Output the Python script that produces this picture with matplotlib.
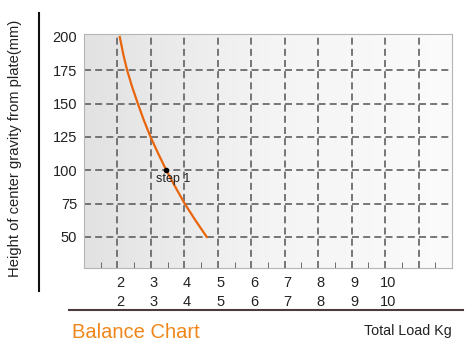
import numpy as np
import matplotlib.pyplot as plt
from matplotlib.lines import Line2D
from matplotlib.colors import LinearSegmentedColormap

plt.rcParams['font.family'] = ['Liberation Sans', 'DejaVu Sans']

# Data
height_mm = [200, 187.5, 175, 162.5, 150, 137.5, 125, 112.5, 100, 87.5, 75, 62.5, 50]
load_kg = [2.07, 2.17, 2.29, 2.44, 2.61, 2.79, 2.99, 3.22, 3.46, 3.73, 4.01, 4.33, 4.67]
step_load, step_height = 3.46, 100
x_grid = [2, 3, 4, 5, 6, 7, 8, 9, 10, 11]
x_labels = ["2", "3", "4", "5", "6", "7", "8", "9", "10"]
y_ticks = [50, 75, 100, 125, 150, 175, 200]
y_grid = [50, 75, 100, 125, 150, 175]

fig = plt.figure(figsize=(4.74, 3.51), dpi=100)
ax = fig.add_axes([0.1772, 0.2365, 0.7764, 0.6667])
ax.set_xlim(1, 12)
ax.set_ylim(26.75, 202.25)

# light gray -> white background gradient
grad = np.linspace(0, 1, 256).reshape(1, -1)
bg = LinearSegmentedColormap.from_list("bg", ["#e2e2e2", "#f4f4f4", "#fbfbfb"])
ax.imshow(grad, extent=[1, 12, 26.75, 202.25], aspect="auto", cmap=bg, zorder=0)

grid_kw = dict(color="#606060", lw=1.2, ls=(0, (4.2, 2.5)), zorder=1)
for x in x_grid:
    ax.axvline(x, **grid_kw)
for y in y_grid:
    ax.axhline(y, **grid_kw)

ax.plot(load_kg, height_mm, color="#e8650c", lw=1.6, zorder=3)
ax.plot(step_load, step_height, "o", color="black", ms=3, zorder=4)
ax.text(3.16, 91.5, "step 1", fontsize=9, color="#222222", zorder=5)

for s in ax.spines.values():
    s.set_color("#b5b5b5")
    s.set_linewidth(0.8)

ax.set_yticks(y_ticks)
ax.set_yticklabels([str(v) for v in y_ticks], fontsize=10.5, color="#222222")
ax.tick_params(axis="y", length=0, pad=5)
ax.set_xticks([])
ax.set_xticks(np.arange(1.5, 12, 1), minor=True)
ax.tick_params(axis="x", which="minor", direction="in", length=4, color="#555555",
               labelbottom=False)

for x, lab in zip(x_grid, x_labels):
    ax.text(x + 0.08, -0.064, lab, transform=ax.get_xaxis_transform(),
            ha="center", va="center", fontsize=10.5, color="#222222")
    ax.text(x + 0.08, -0.145, lab, transform=ax.get_xaxis_transform(),
            ha="center", va="center", fontsize=10.5, color="#222222")

fig.text(15 / 474, 1 - 148 / 351, "Height of center gravity from plate(mm)", rotation=90,
         ha="center", va="center", fontsize=10.6, color="#222222")

fig.add_artist(Line2D([39 / 474, 39 / 474], [1 - 13 / 351, 1 - 291 / 351],
                      color="#111111", lw=1.5))
fig.add_artist(Line2D([69 / 474, 463 / 474], [1 - 310 / 351, 1 - 310 / 351],
                      color="#4a3c3c", lw=1.5))

fig.text(72 / 474, 1 - 333 / 351, "Balance Chart", ha="left", va="center",
         fontsize=14.5, color="#f0861a")
fig.text(452 / 474, 1 - 331 / 351, "Total Load Kg", ha="right", va="center",
         fontsize=10.3, color="#222222")

fig.savefig("out.png", dpi=100)
